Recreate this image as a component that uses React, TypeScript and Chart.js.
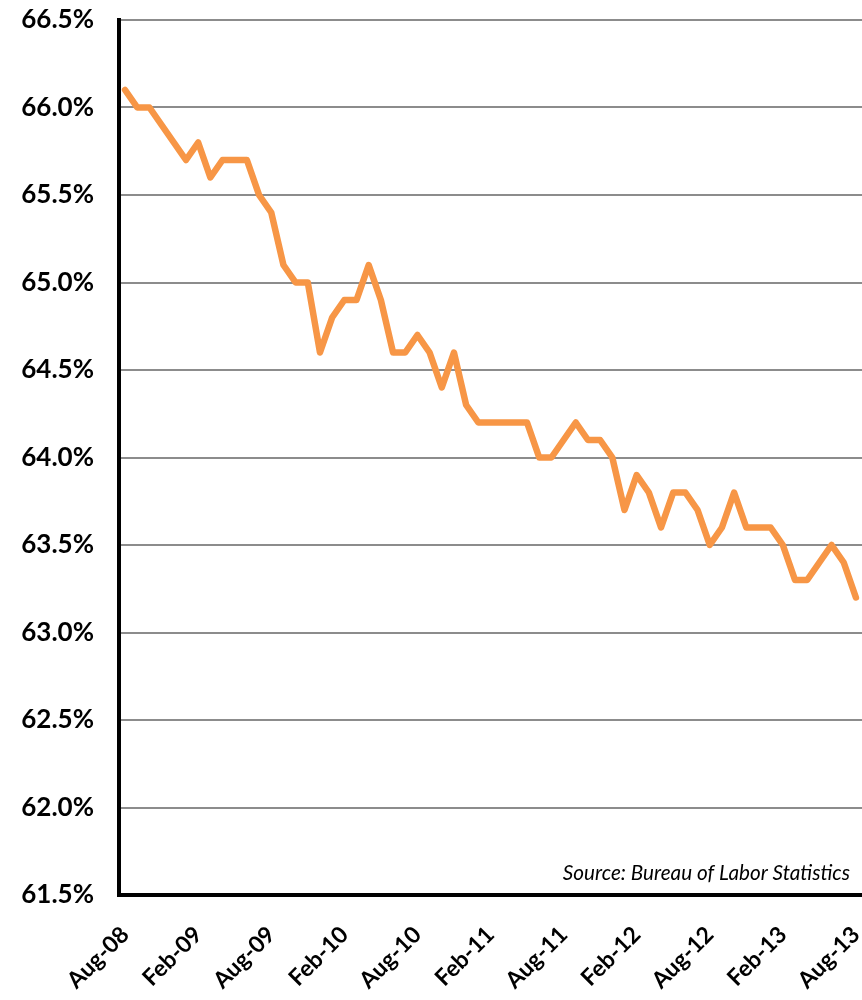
import React, { useEffect, useRef } from "react";
import { Chart, registerables } from "chart.js";

Chart.register(...registerables);

const months = ["Jan", "Feb", "Mar", "Apr", "May", "Jun", "Jul", "Aug", "Sep", "Oct", "Nov", "Dec"];

// Aug-08 .. Aug-13 monthly categories
const categories: string[] = [];
for (let y = 2008; y <= 2013; y++) {
  for (let m = 0; m < 12; m++) {
    if (y === 2008 && m < 7) continue;
    if (y === 2013 && m > 7) continue;
    categories.push(`${months[m]}-${String(y).slice(2)}`);
  }
}

const participationRate = [
  66.1, 66.0, 66.0, 65.9, 65.8,
  65.7, 65.8, 65.6, 65.7, 65.7, 65.7, 65.5, 65.4, 65.1, 65.0, 65.0, 64.6,
  64.8, 64.9, 64.9, 65.1, 64.9, 64.6, 64.6, 64.7, 64.6, 64.4, 64.6, 64.3,
  64.2, 64.2, 64.2, 64.2, 64.2, 64.0, 64.0, 64.1, 64.2, 64.1, 64.1, 64.0,
  63.7, 63.9, 63.8, 63.6, 63.8, 63.8, 63.7, 63.5, 63.6, 63.8, 63.6, 63.6,
  63.6, 63.5, 63.3, 63.3, 63.4, 63.5, 63.4, 63.2,
];

const yMin = 61.5;
const yMax = 66.5;
const yStep = 0.5;
const sourceText = "Source: Bureau of Labor Statistics";

const sourcePlugin = {
  id: "sourceNote",
  afterDraw(chart: any) {
    const { ctx, chartArea } = chart;
    ctx.save();
    ctx.font = "italic 20.7px Lato";
    ctx.fillStyle = "#000";
    ctx.textAlign = "right";
    ctx.textBaseline = "alphabetic";
    ctx.fillText(sourceText, chartArea.right - 12, chartArea.bottom - 15);
    ctx.restore();
  },
};

export default function App() {
  const ref = useRef<HTMLCanvasElement | null>(null);

  useEffect(() => {
    if (!ref.current) return;
    const chart = new Chart(ref.current, {
      type: "line",
      data: {
        labels: categories,
        datasets: [
          {
            data: participationRate,
            borderColor: "#F79646",
            borderWidth: 6.5,
            borderJoinStyle: "round",
            borderCapStyle: "round",
            pointRadius: 0,
            tension: 0,
            fill: false,
          },
        ],
      },
      options: {
        responsive: false,
        animation: false,
        devicePixelRatio: 1,
        layout: { padding: { top: 20, right: 0, left: 0, bottom: 0 } },
        plugins: {
          legend: { display: false },
          tooltip: { enabled: false },
        },
        scales: {
          x: {
            type: "category",
            offset: true,
            grid: { display: false, drawTicks: false },
            border: { color: "#000", width: 4 },
            afterFit: (s: any) => {
              s.height = 105;
              s.paddingLeft = 0;
              s.paddingRight = 0;
            },
            ticks: {
              autoSkip: false,
              maxRotation: 45,
              minRotation: 45,
              padding: 26,
              color: "#000",
              font: { family: "Lato", weight: "bold", size: 23 },
              callback: (_v: any, i: number) => (i % 6 === 0 ? categories[i] : ""),
            },
          },
          y: {
            min: yMin,
            max: yMax,
            grid: { color: "#8c8c8c", lineWidth: 2, drawTicks: false },
            border: { color: "#000", width: 4 },
            afterFit: (s: any) => {
              s.width = 119;
              s.paddingTop = 0;
              s.paddingBottom = 0;
            },
            ticks: {
              stepSize: yStep,
              padding: 25,
              color: "#000",
              font: { family: "Lato", weight: "bold", size: 26 },
              callback: (v: any) => Number(v).toFixed(1) + "%",
            },
          },
        },
      },
      plugins: [sourcePlugin],
    });
    return () => chart.destroy();
  }, []);

  return (
    <div style={{ position: "absolute", left: 0, top: 0, width: 862, height: 1000, background: "#fff" }}>
      <canvas ref={ref} width={862} height={1000} style={{ display: "block" }} />
    </div>
  );
}
